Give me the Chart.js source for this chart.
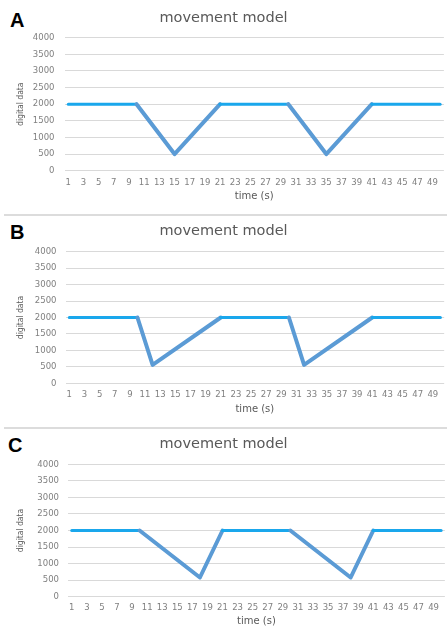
<!DOCTYPE html>
<html>
<head>
<meta charset="utf-8">
<script src="https://cdn.jsdelivr.net/npm/chart.js@4.4.1/dist/chart.umd.min.js"></script>
<style>
  html, body { margin: 0; padding: 0; background: #fff; overflow: hidden; }
  body { width: 447px; height: 626px; position: relative; }
  .panel-canvas { position: absolute; left: 0; }
  .letter { position: absolute; font: bold 20px "Liberation Sans", Arial, sans-serif; line-height: 20px; color: #000; }
  .sep { position: absolute; left: 4px; right: 0; height: 2px; background: #dcdcdc; }
</style>
</head>
<body>
<div class="letter" style="left:10px; top:10px;">A</div>
<div class="letter" style="left:10px; top:222px;">B</div>
<div class="letter" style="left:8px; top:435px;">C</div>
<div class="sep" style="top:214px;"></div>
<div class="sep" style="top:427px;"></div>
<canvas id="chart-a" class="panel-canvas"></canvas>
<canvas id="chart-b" class="panel-canvas"></canvas>
<canvas id="chart-c" class="panel-canvas"></canvas>
<script>
// ── Data ───────────────────────────────────────────────────────────────────

const TIME_LABELS = [
  '1', '2', '3', '4', '5', '6', '7', '8', '9', '10',
  '11', '12', '13', '14', '15', '16', '17', '18', '19', '20',
  '21', '22', '23', '24', '25', '26', '27', '28', '29', '30',
  '31', '32', '33', '34', '35', '36', '37', '38', '39', '40',
  '41', '42', '43', '44', '45', '46', '47', '48', '49', '50',
];

// corner points of each movement model (time, digital data)
const A_TIMES  = ['1', '10', '15', '21', '30', '35', '41', '50'];
const A_VALUES = [2000, 2000, 500, 2000, 2000, 500, 2000, 2000];

const B_TIMES  = ['1', '10', '12', '21', '30', '32', '41', '50'];
const B_VALUES = [2000, 2000, 560, 2000, 2000, 560, 2000, 2000];

const C_TIMES  = ['1', '10', '18', '21', '30', '38', '41', '50'];
const C_VALUES = [2000, 2000, 580, 2000, 2000, 580, 2000, 2000];

const Y_MIN = 0, Y_MAX = 4000, Y_STEP = 500;

const TITLE   = 'movement model';
const X_TITLE = 'time (s)';
const Y_TITLE = 'digital data';

// ── Styles ─────────────────────────────────────────────────────────────────

const FLAT_COLOR  = '#1aa7ec';
const SLOPE_COLOR = '#5b9bd5';
const GRID_COLOR  = '#d9d9d9';
const TEXT_COLOR  = '#595959';
const TICK_COLOR  = '#808080';

const TICK_FONT  = { family: 'DejaVu Sans', size: 8.5 };
const TITLE_FONT = { family: 'DejaVu Sans', size: 14.5, weight: 'normal' };
const XT_FONT    = { family: 'DejaVu Sans', size: 10 };
const YT_FONT    = { family: 'DejaVu Sans Condensed, DejaVu Sans', size: 8.5 };

// panel geometry in page pixels
const PANELS = [
  { id: 'chart-a', times: A_TIMES, values: A_VALUES, top: 0,   height: 214,
    titleY: 18,    chartTop: 37.7,  chartBottom: 170.7, labelY: 182.7, xTitleY: 196.5, yW: 64.5, tickRight: 54.5 },
  { id: 'chart-b', times: B_TIMES, values: B_VALUES, top: 214, height: 213,
    titleY: 231.7, chartTop: 251.7, chartBottom: 383.3, labelY: 395,   xTitleY: 409.3, yW: 65.5, tickRight: 56.5 },
  { id: 'chart-c', times: C_TIMES, values: C_VALUES, top: 427, height: 205,
    titleY: 444.3, chartTop: 464.3, chartBottom: 596.7, labelY: 607.7, xTitleY: 621.5, yW: 68,   tickRight: 59 },
];

// ── Charts ─────────────────────────────────────────────────────────────────

// flat stretches are drawn in the lighter cyan, ramps in the steel blue
const isFlat = ctx => Math.abs(ctx.p0.y - ctx.p1.y) < 0.5;

function makePanel(p) {
  const canvas = document.getElementById(p.id);
  canvas.width = 447;
  canvas.height = p.height;
  canvas.style.top = p.top + 'px';
  canvas.style.width = '447px';
  canvas.style.height = p.height + 'px';

  const titleLH = TITLE_FONT.size * 1.2;
  const tickLH  = TICK_FONT.size * 1.2;
  const xtLH    = XT_FONT.size * 1.2;
  const ytLH    = YT_FONT.size * 1.2;
  const xAxisH  = p.top + p.height - p.chartBottom;

  return new Chart(canvas.getContext('2d'), {
    type: 'line',
    data: {
      labels: TIME_LABELS,
      datasets: [{
        data: p.times.map((t, i) => ({ x: t, y: p.values[i] })),
        borderColor: SLOPE_COLOR,
        borderWidth: 3.5,
        borderCapStyle: 'round',
        borderJoinStyle: 'round',
        pointRadius: 0,
        tension: 0,
        segment: {
          borderColor: ctx => isFlat(ctx) ? FLAT_COLOR : SLOPE_COLOR,
          borderWidth: ctx => isFlat(ctx) ? 3 : 4,
        },
      }],
    },
    options: {
      responsive: false,
      animation: false,
      devicePixelRatio: 1,
      layout: { padding: 0 },
      plugins: {
        legend: { display: false },
        tooltip: { enabled: false },
        title: {
          display: true,
          text: TITLE,
          color: TEXT_COLOR,
          font: TITLE_FONT,
          padding: {
            top: p.titleY - p.top - titleLH / 2,
            bottom: p.chartTop - p.titleY - titleLH / 2,
          },
        },
      },
      scales: {
        x: {
          type: 'category',
          offset: true,
          grid: { display: false, drawTicks: false },
          border: { display: false },
          ticks: {
            autoSkip: false,
            maxRotation: 0,
            color: TICK_COLOR,
            font: TICK_FONT,
            padding: p.labelY - p.chartBottom - tickLH / 2,
            callback: (v, i) => i % 2 === 0 ? TIME_LABELS[i] : '',
          },
          title: {
            display: true,
            text: X_TITLE,
            color: TEXT_COLOR,
            font: XT_FONT,
            padding: { top: 0, bottom: p.top + p.height - p.xTitleY - xtLH / 2 },
          },
          afterFit: s => { s.height = xAxisH; },
        },
        y: {
          min: Y_MIN, max: Y_MAX,
          grid: { color: GRID_COLOR, lineWidth: 1, drawTicks: false },
          border: { display: false },
          ticks: {
            stepSize: Y_STEP,
            color: TICK_COLOR,
            font: TICK_FONT,
            padding: p.yW - p.tickRight,
            callback: v => String(v),
          },
          title: {
            display: true,
            text: Y_TITLE,
            color: TEXT_COLOR,
            font: YT_FONT,
            padding: { top: 20.7 - ytLH / 2, bottom: 0 },
          },
          afterFit: s => { s.width = p.yW; },
        },
      },
    },
  });
}

PANELS.forEach(makePanel);
</script>
</body>
</html>
